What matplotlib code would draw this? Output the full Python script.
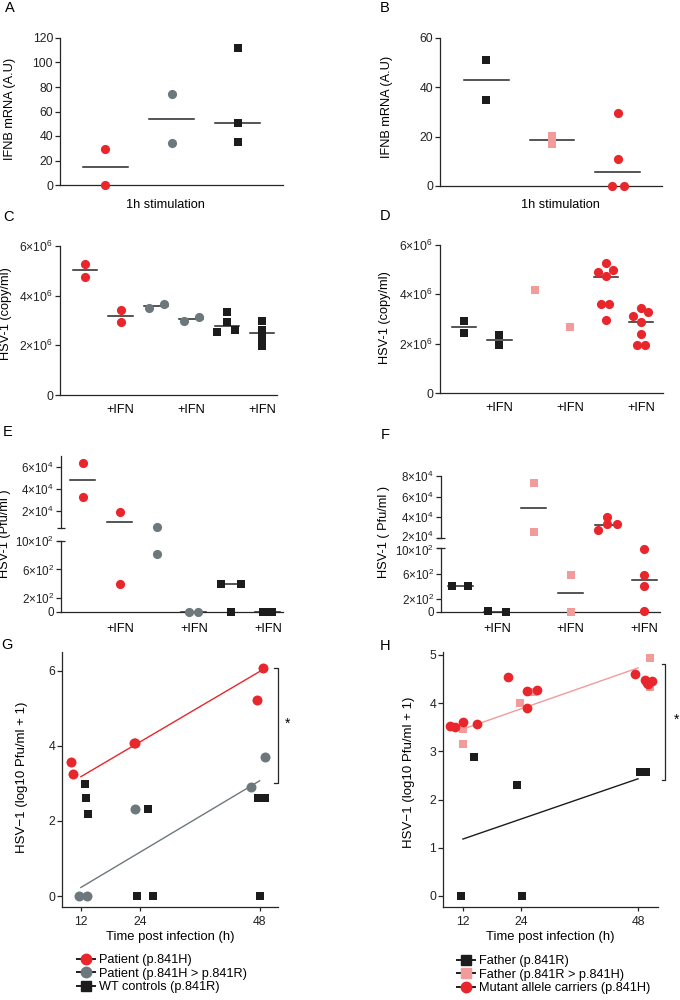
import numpy as np
import matplotlib
matplotlib.use('Agg')
import matplotlib.pyplot as plt
import matplotlib.transforms as mtransforms
from matplotlib.lines import Line2D

plt.rcParams['font.family'] = ['Liberation Sans', 'DejaVu Sans']
plt.rcParams['mathtext.fontset'] = 'custom'
plt.rcParams['mathtext.rm'] = 'Liberation Sans'
plt.rcParams['font.size'] = 9
plt.rcParams['xtick.labelsize'] = 8.8
plt.rcParams['ytick.labelsize'] = 8.8
plt.rcParams['axes.linewidth'] = 0.9
plt.rcParams['xtick.major.width'] = 0.9
plt.rcParams['ytick.major.width'] = 0.9
plt.rcParams['ytick.major.size'] = 3.5
plt.rcParams['xtick.major.size'] = 3
plt.rcParams['ytick.major.pad'] = 1.5

# ---- Colours ----
RED = '#e8262b'
GRAY = '#6d787d'
BLACK = '#1c1c1c'
PINK = '#f29b9b'
INK = '#262626'
FS = 9.2  # label text size

# ---- A: IFNB mRNA after 1h stimulation ----
a_vals = [[29, 0], [74, 34], [112, 51, 35]]
a_jit = [[0, 0], [0, 0], [0, 0, 0]]
a_mid = [15, 54, 51]
a_col = [RED, GRAY, BLACK]
a_mrk = ['o', 'o', 's']

# ---- B ----
b_vals = [[51, 35], [20.4, 17.0], [29.5, 11, 0, 0]]
b_jit = [[0, 0], [0, 0], [0, 0, -0.09, 0.09]]
b_mid = [43, 18.5, 5.5]
b_col = [BLACK, PINK, RED]
b_mrk = ['s', 's', 'o']

# ---- C: HSV-1 copies (x1e6) ----
c_vals = [[5.28, 4.74], [3.43, 2.92], [3.50, 3.68], [2.96, 3.15],
          [3.36, 2.92, 2.53, 2.62], [3.0, 2.62, 2.3, 1.98]]
c_jit = [[0, 0], [0, 0], [-0.2, 0.22], [-0.2, 0.22],
         [0, 0, -0.28, 0.22], [0, 0, 0, 0]]
c_mid = [5.03, 3.18, 3.6, 3.05, 2.78, 2.5]
c_col = [RED, RED, GRAY, GRAY, BLACK, BLACK]
c_mrk = ['o', 'o', 'o', 'o', 's', 's']

# ---- D ----
d_vals = [[2.9, 2.45], [2.35, 1.95], [4.16], [2.66],
          [4.91, 5.28, 5.0, 4.74, 3.59, 3.59, 2.96],
          [3.12, 3.43, 3.29, 2.89, 2.38, 1.94, 1.94]]
d_jit = [[0, 0], [0, 0], [0], [0],
         [-0.21, 0, 0.21, 0, -0.13, 0.1, 0],
         [-0.22, 0, 0.2, 0, 0, -0.12, 0.11]]
d_mid = [2.69, 2.14, None, None, 4.71, 2.89]
d_col = [BLACK, BLACK, PINK, PINK, RED, RED]
d_mrk = ['s', 's', 's', 's', 'o', 'o']

# ---- E: HSV-1 Pfu/ml ----
e_vals = [[63400, 32500], [18800, 400], [5700, 810], [0, 0],
          [400, 400, 0], [0, 0, 0]]
e_jit = [[0, 0], [0, 0], [0, 0], [-0.12, 0.12],
         [-0.27, 0.27, 0], [-0.12, 0, 0.12]]
e_mid = [48000, 9600, 3255, 0, 400, 0]
e_col = [RED, RED, GRAY, GRAY, BLACK, BLACK]
e_mrk = ['o', 'o', 'o', 'o', 's', 's']

# ---- F ----
f_vals = [[400, 400], [15, 0], [73000, 25500], [573, 0],
          [27700, 40800, 33300, 33300], [980, 584, 400, 15]]
f_jit = [[-0.22, 0.22], [-0.25, 0.25], [0, 0], [0, 0],
         [-0.25, 0, 0, 0.27], [0, 0, 0, 0]]
f_mid = [400, 7.5, 49000, 290, 32600, 495]
f_col = [BLACK, BLACK, PINK, PINK, RED, RED]
f_mrk = ['s', 's', 's', 's', 'o', 'o']

# ---- G: kinetics, log10 Pfu/ml + 1 ----
g_red_t = [10.0, 10.4, 22.6, 22.9, 47.5, 48.6]
g_red_y = [3.58, 3.25, 4.09, 4.08, 5.23, 6.08]
g_gray_t = [11.7, 13.3, 22.9, 46.2, 49.1]
g_gray_y = [0, 0, 2.31, 2.9, 3.7]
g_blk_t = [12.9, 13.1, 13.5, 23.3, 25.6, 26.6, 47.7, 49.1, 48.1]
g_blk_y = [2.99, 2.6, 2.19, 0, 2.31, 0, 2.6, 2.6, 0]
fit_t = [12, 48]
g_red_fit = [3.18, 5.98]
g_gray_fit = [0.23, 3.07]
g_ticks = [12, 24, 48]

# ---- H ----
h_red_t = [9.3, 10.4, 12.1, 14.8, 21.3, 25.1, 25.1, 27.2, 47.4, 49.4, 50.1, 50.8, 49.8]
h_red_y = [3.53, 3.51, 3.6, 3.56, 4.55, 3.89, 4.25, 4.27, 4.6, 4.47, 4.39, 4.45, 4.41]
h_pink_t = [12.1, 12.1, 23.7, 26.5, 50.5, 50.5]
h_pink_y = [3.46, 3.15, 4.01, 4.22, 4.94, 4.34]
h_blk_t = [14.3, 23.2, 11.7, 24.2, 48.4, 49.65]
h_blk_y = [2.89, 2.3, 0, 0, 2.57, 2.57]
h_pink_fit = [3.46, 4.73]
h_blk_fit = [1.18, 2.43]

W, H = 680, 1000
fig = plt.figure(figsize=(W / 100, H / 100), dpi=100)


def px_axes(l, t, r, b):
    ax = fig.add_axes([l / W, 1 - b / H, (r - l) / W, (b - t) / H])
    ax.spines['top'].set_visible(False)
    ax.spines['right'].set_visible(False)
    ax.spines['left'].set_color(INK)
    ax.spines['bottom'].set_color(INK)
    ax.tick_params(colors=INK, labelcolor='#222222')
    return ax


def ftext(x, y, s, **kw):
    fig.text(x / W, 1 - y / H, s, **kw)


def sci(m, e):
    return r'$\mathregular{%d×10^{%d}}$' % (m, e)


def dots(ax, vals, jit, mid, cols, mrks, lo=-np.inf, hi=np.inf, half=0.34):
    for i in range(len(vals)):
        if mid[i] is not None:
            ax.plot([i - half, i + half], [mid[i], mid[i]], color=INK, lw=1.1, zorder=2)
        v = np.array(vals[i], dtype=float)
        x = i + np.array(jit[i], dtype=float)
        keep = (v >= lo) & (v <= hi)
        ms = 6.6 if mrks[i] == 'o' else 6.2
        ax.plot(x[keep], v[keep], ls='none', marker=mrks[i], color=cols[i],
                ms=ms, mew=0, clip_on=False, zorder=3)


def ifn_labels(ax, idx, dy=-15):
    for i in idx:
        ax.annotate('+IFN', xy=(i, 0), xycoords=('data', 'axes fraction'),
                    xytext=(0, dy * 0.72), textcoords='offset points',
                    ha='center', va='center', fontsize=FS)


def nudge(label, dy_px):
    label.set_transform(label.get_transform() +
                        mtransforms.ScaledTranslation(0, dy_px / 100, fig.dpi_scale_trans))


# ---- A ----
ax = px_axes(60, 38, 283, 185)
dots(ax, a_vals, a_jit, a_mid, a_col, a_mrk)
ax.set_xlim(-0.68, 2.68)
ax.set_ylim(0, 120)
ax.set_yticks(range(0, 121, 20))
ax.set_xticks([])
ftext(165, 205, '1h stimulation', ha='center', va='center', fontsize=FS)
ftext(10, 109, 'IFNB mRNA (A.U)', rotation=90, ha='center', va='center', fontsize=FS)

# ---- B ----
ax = px_axes(440, 38, 662, 186)
dots(ax, b_vals, b_jit, b_mid, b_col, b_mrk)
ax.set_xlim(-0.70, 2.67)
ax.set_ylim(0, 60)
ax.set_yticks([0, 20, 40, 60])
ax.set_xticks([])
ftext(560, 205, '1h stimulation', ha='center', va='center', fontsize=FS)
ftext(387, 107, 'IFNB mRNA (A.U)', rotation=90, ha='center', va='center', fontsize=FS)

# ---- C ----
ax = px_axes(60, 246, 277, 395)
dots(ax, c_vals, c_jit, c_mid, c_col, c_mrk)
ax.set_xlim(-0.71, 5.42)
ax.set_ylim(0, 6)
ax.set_yticks([0, 2, 4, 6])
ax.set_yticklabels(['0', sci(2, 6), sci(4, 6), sci(6, 6)])
ax.set_xticks([])
ifn_labels(ax, [1, 3, 5])
ftext(6, 314, 'HSV-1 (copy/ml)', rotation=90, ha='center', va='center', fontsize=FS)

# ---- D ----
ax = px_axes(440, 245, 663, 393)
dots(ax, d_vals, d_jit, d_mid, d_col, d_mrk)
ax.set_xlim(-0.68, 5.62)
ax.set_ylim(0, 6)
ax.set_yticks([0, 2, 4, 6])
ax.set_yticklabels(['0', sci(2, 6), sci(4, 6), sci(6, 6)])
ax.set_xticks([])
ifn_labels(ax, [1, 3, 5])
ftext(385, 318, 'HSV-1 (copy/ml)', rotation=90, ha='center', va='center', fontsize=FS)


# ---- E / F broken axes ----
def broken_panel(l, r, t_hi, b_hi, t_lo, b_lo, hi_lim, hi_ticks, xlim,
                 vals, jit, mid, cols, mrks):
    ax_hi = px_axes(l, t_hi, r, b_hi)
    ax_lo = px_axes(l, t_lo, r, b_lo)
    ax_hi.spines['bottom'].set_visible(False)
    ax_hi.set_ylim(*hi_lim)
    ax_lo.set_ylim(0, 1000)
    for a in (ax_hi, ax_lo):
        a.set_xlim(*xlim)
        a.set_xticks([])
        a.tick_params(axis='y', labelsize=8.4)
        lo, hi = a.get_ylim()
        dots(a, vals, jit, mid, cols, mrks, lo=lo, hi=hi)
    ax_hi.set_yticks(hi_ticks)
    ax_hi.set_yticklabels([sci(v // 10000, 4) for v in hi_ticks])
    ax_lo.set_yticks([0, 200, 600, 1000])
    ax_lo.set_yticklabels(['0', sci(2, 2), sci(6, 2), sci(10, 2)])
    # break marks
    ax_hi.plot([0], [0], transform=ax_hi.transAxes, marker='_', ms=6, mew=0.9,
               color=INK, clip_on=False)
    ax_lo.plot([0], [1], transform=ax_lo.transAxes, marker='_', ms=6, mew=0.9,
               color=INK, clip_on=False)
    ifn_labels(ax_lo, [1, 3, 5], dy=-17)
    return ax_hi, ax_lo


broken_panel(61, 283, 456, 528, 541, 612, (4500, 70000), [20000, 40000, 60000],
             (-0.59, 5.41), e_vals, e_jit, e_mid, e_col, e_mrk)
ftext(5, 534, 'HSV-1 (Pfu/ml )', rotation=90, ha='center', va='center', fontsize=FS)

f_hi, f_lo = broken_panel(441, 660, 476, 538, 548, 612, (20000, 80000),
                          [20000, 40000, 60000, 80000],
                          (-0.52, 5.43), f_vals, f_jit, f_mid, f_col, f_mrk)
# the 2x10^4 and 10x10^2 labels sit very close at the break
nudge(f_hi.get_yticklabels()[0], 2)
nudge(f_lo.get_yticklabels()[-1], -1.5)
ftext(384, 532, 'HSV-1 ( Pfu/ml )', rotation=90, ha='center', va='center', fontsize=FS)

# ---- G ----
ax = px_axes(62, 652, 278, 907)
ax.plot(fit_t, g_red_fit, color=RED, lw=1.0, zorder=2)
ax.plot(fit_t, g_gray_fit, color=GRAY, lw=1.0, zorder=2)
ax.plot(g_red_t, g_red_y, ls='none', marker='o', color=RED, ms=7.2, mew=0, zorder=3, clip_on=False)
ax.plot(g_gray_t, g_gray_y, ls='none', marker='o', color=GRAY, ms=7.2, mew=0, zorder=3, clip_on=False)
ax.plot(g_blk_t, g_blk_y, ls='none', marker='s', color=BLACK, ms=6.4, mew=0, zorder=4, clip_on=False)
ax.set_xlim(8.2, 51.7)
ax.set_ylim(-0.29, 6.5)
ax.set_xticks(g_ticks)
ax.set_yticks([0, 2, 4, 6])
ax.set_xlabel('Time post infection (h)', fontsize=9.4, labelpad=2)
ax.plot([50.9, 51.6, 51.6, 50.9], [6.08, 6.08, 3.0, 3.0], color=INK, lw=0.9, clip_on=False)
ax.text(53.7, 4.6, '*', fontsize=10, ha='center', va='center')
ftext(22, 777, 'HSV−1 (log10 Pfu/ml + 1)', rotation=90, ha='center', va='center', fontsize=9.5)

g_handles = [
    Line2D([], [], color=BLACK, lw=1.4, marker='o', mfc=RED, mec=RED, ms=7.5),
    Line2D([], [], color=BLACK, lw=1.4, marker='o', mfc=GRAY, mec=GRAY, ms=7.5),
    Line2D([], [], color=BLACK, lw=1.4, marker='s', mfc=BLACK, mec=BLACK, ms=6.6),
]
g_labels = ['Patient (p.841H)', 'Patient (p.841H > p.841R)', 'WT controls (p.841R)']
fig.legend(g_handles, g_labels, loc='upper left', bbox_to_anchor=(77 / W, 1 - 954 / H),
           frameon=False, fontsize=9.2, handlelength=1.4, handletextpad=0.3,
           labelspacing=0.12, borderpad=0, borderaxespad=0)

# ---- H ----
ax = px_axes(443, 652, 658, 907)
ax.plot(fit_t, h_pink_fit, color=PINK, lw=1.0, zorder=2)
ax.plot(fit_t, h_blk_fit, color=BLACK, lw=1.0, zorder=2)
ax.plot(h_blk_t, h_blk_y, ls='none', marker='s', color=BLACK, ms=6.4, mew=0, zorder=3, clip_on=False)
ax.plot(h_pink_t, h_pink_y, ls='none', marker='s', color=PINK, ms=6.4, mew=0, zorder=3, clip_on=False)
ax.plot(h_red_t, h_red_y, ls='none', marker='o', color=RED, ms=7.0, mew=0, zorder=4, clip_on=False)
ax.set_xlim(7.9, 52.1)
ax.set_ylim(-0.23, 5.06)
ax.set_xticks(g_ticks)
ax.set_yticks([0, 1, 2, 3, 4, 5])
ax.set_xlabel('Time post infection (h)', fontsize=9.4, labelpad=2)
ax.plot([52.9, 53.6, 53.6, 52.9], [4.82, 4.82, 2.4, 2.4], color=INK, lw=0.9, clip_on=False)
ax.text(56.0, 3.65, '*', fontsize=10, ha='center', va='center')
ftext(409, 772, 'HSV−1 (log10 Pfu/ml + 1)', rotation=90, ha='center', va='center', fontsize=9.5)

h_handles = [
    Line2D([], [], color=BLACK, lw=1.4, marker='s', mfc=BLACK, mec=BLACK, ms=6.6),
    Line2D([], [], color=BLACK, lw=1.4, marker='s', mfc=PINK, mec=PINK, ms=6.6),
    Line2D([], [], color=BLACK, lw=1.4, marker='o', mfc=RED, mec=RED, ms=7.5),
]
h_labels = ['Father (p.841R)', 'Father (p.841R > p.841H)', 'Mutant allele carriers (p.841H)']
fig.legend(h_handles, h_labels, loc='upper left', bbox_to_anchor=(457 / W, 1 - 955 / H),
           frameon=False, fontsize=9.2, handlelength=1.4, handletextpad=0.3,
           labelspacing=0.12, borderpad=0, borderaxespad=0)

# ---- Panel letters ----
for letter, x, y in [('A', 10, 8), ('B', 385, 8), ('C', 8, 217), ('D', 385, 216),
                     ('E', 8, 432), ('F', 385, 435), ('G', 7, 645), ('H', 385, 646)]:
    ftext(x, y, letter, ha='center', va='center', fontsize=10.5)

fig.savefig('out.png', dpi=100)
